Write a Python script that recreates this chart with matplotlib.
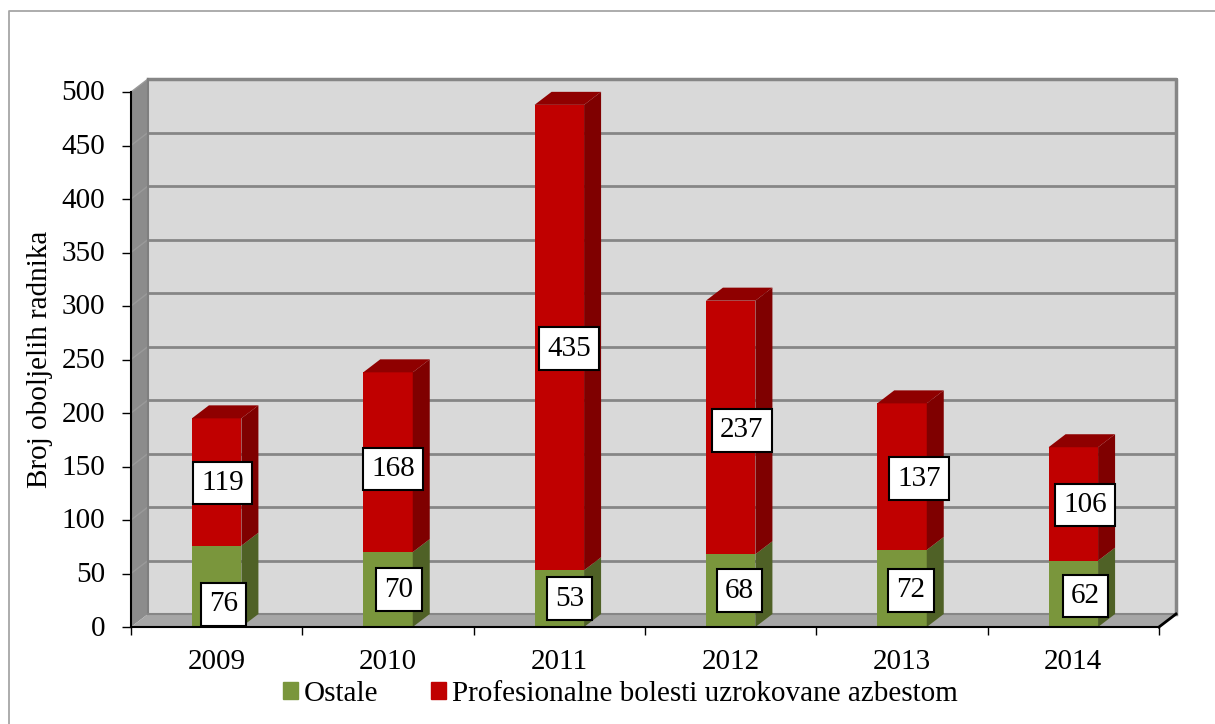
import matplotlib
matplotlib.use("Agg")
import matplotlib.pyplot as plt
from matplotlib.patches import Patch, Polygon
from matplotlib.transforms import ScaledTranslation

years = ["2009", "2010", "2011", "2012", "2013", "2014"]
ostale = [76, 70, 53, 68, 72, 62]
azbest = [119, 168, 435, 237, 137, 106]
y_ticks = list(range(0, 501, 50))

# pomaci oznaka od sredine stupca, u pikselima
off_ostale = [(7, -18), (11, 0), (10, 0), (9, 0), (9, -2), (12, -2)]
off_azbest = [(6, -1), (5, -7), (10, -11), (11, -3), (17, -2), (12, -1)]

GREEN, GREEN_DARK = "#7a963c", "#4f6126"
RED, RED_DARK, RED_TOP = "#c00000", "#7f0000", "#8f0000"
WALL, SIDE, FLOOR = "#d9d9d9", "#8c8c8c", "#a6a6a6"
GRID = "#868686"

W, H = 1215, 724
plt.rcParams["font.family"] = ["Liberation Serif", "DejaVu Serif"]

fig = plt.figure(figsize=(W / 100, H / 100), dpi=100)
fig.add_artist(plt.Line2D([8.5 / W, 8.5 / W, 1], [0, 1 - 10.5 / H, 1 - 10.5 / H], color="#a6a6a6", lw=1.3))

ax = fig.add_axes([131 / W, 1 - 627 / H, (1159 - 131) / W, (627 - 92) / H])
ax.set_xlim(0, 6)
ax.set_ylim(0, 500)

# dubina 3D efekta u jedinicama podataka
dx = 17 / (1028 / 6)
dy = 13 / (535 / 500)


def poly(pts, color, z):
    ax.add_patch(Polygon(pts, closed=True, facecolor=color, edgecolor="none", lw=0, zorder=z, clip_on=False))


# zidovi
poly([(dx, dy), (6 + dx, dy), (6 + dx, 500 + dy), (dx, 500 + dy)], WALL, 1)
poly([(0, 0), (dx, dy), (dx, 500 + dy), (0, 500)], SIDE, 1)
poly([(0, 0), (6, 0), (6 + dx, dy), (dx, dy)], FLOOR, 1)

for t in y_ticks[1:]:
    ax.plot([0, dx], [t, t + dy], color="#9a9a9a", lw=1, zorder=2, clip_on=False)
    ax.plot([dx, 6 + dx], [t + dy, t + dy], color=GRID, lw=2, zorder=2, clip_on=False)
ax.plot([dx, 6 + dx, 6 + dx], [500 + dy, 500 + dy, dy], color=GRID, lw=2.5, zorder=2, clip_on=False)
ax.plot([dx, dx], [dy, 500 + dy], color="#7f7f7f", lw=1.5, zorder=2, clip_on=False)
ax.plot([dx, 6 + dx], [dy, dy], color=GRID, lw=1.5, zorder=2, clip_on=False)
ax.plot([6, 6 + dx], [0, dy], color="black", lw=2, zorder=3, clip_on=False)

# stupci
width = 49.5 / (1028 / 6)
for i in range(len(years)):
    left = i + 0.5 - width / 2
    right = left + width
    a = ostale[i]
    b = a + azbest[i]
    ax.bar(i + 0.5, a, width=width, color=GREEN, zorder=4)
    ax.bar(i + 0.5, azbest[i], width=width, bottom=a, color=RED, zorder=4)
    poly([(right, 0), (right + dx, dy), (right + dx, a + dy), (right, a)], GREEN_DARK, 4)
    poly([(right, a), (right + dx, a + dy), (right + dx, b + dy), (right, b)], RED_DARK, 4)
    poly([(left, b), (right, b), (right + dx, b + dy), (left + dx, b + dy)], RED_TOP, 4)

box = dict(boxstyle="square,pad=0.28", facecolor="white", edgecolor="black", lw=1.5)
for i in range(len(years)):
    ox, oy = off_ostale[i]
    ax.annotate(str(ostale[i]), (i + 0.5, ostale[i] / 2), xytext=(ox * 0.72, oy * 0.72),
                textcoords="offset points", ha="center", va="center", fontsize=21,
                bbox=box, zorder=6, annotation_clip=False)
    ox, oy = off_azbest[i]
    ax.annotate(str(azbest[i]), (i + 0.5, ostale[i] + azbest[i] / 2), xytext=(ox * 0.72, oy * 0.72),
                textcoords="offset points", ha="center", va="center", fontsize=21,
                bbox=box, zorder=6, annotation_clip=False)

ax.set_yticks(y_ticks)
ax.set_xticks(range(7))
ax.set_xticklabels([])
ax.set_xticks([i + 0.5 for i in range(6)], labels=years, minor=True)
ax.tick_params(axis="y", labelsize=21, length=6.5, width=1, pad=12)
ax.tick_params(axis="x", which="major", length=6, width=1)
ax.tick_params(axis="x", which="minor", length=0, labelsize=21, pad=16)
for s in ["top", "right"]:
    ax.spines[s].set_visible(False)
ax.spines["left"].set_linewidth(1.5)
ax.spines["bottom"].set_linewidth(1.5)
ax.spines["left"].set_zorder(5)
ax.spines["bottom"].set_zorder(5)

# oznake na osi y malo vise
shift = ScaledTranslation(0, 1.5 / 100, fig.dpi_scale_trans)
for lab in ax.get_yticklabels():
    lab.set_transform(lab.get_transform() + shift)

ax.set_ylabel("Broj oboljelih radnika", fontsize=21, labelpad=6)

handles = [Patch(color=GREEN), Patch(color=RED)]
fig.legend(handles, ["Ostale", "Profesionalne bolesti uzrokovane azbestom"], ncol=2,
           loc="center", bbox_to_anchor=(620 / W, 1 - 694 / H), frameon=False, fontsize=21,
           handlelength=0.52, handleheight=0.52, handletextpad=0.2, columnspacing=1.8)

fig.savefig("out.png", dpi=100)
